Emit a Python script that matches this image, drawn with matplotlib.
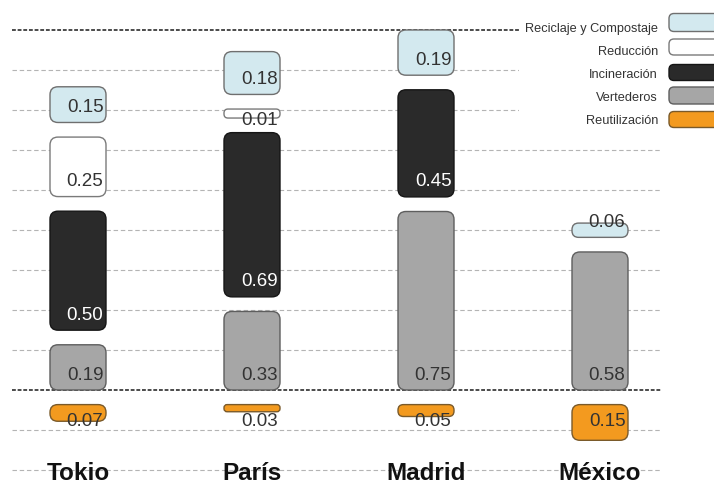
import matplotlib
matplotlib.use("Agg")
import matplotlib.pyplot as plt
from matplotlib.patches import FancyBboxPatch, Rectangle

plt.rcParams['font.family'] = ['Liberation Sans', 'DejaVu Sans']

# ---------------- data ----------------
cities = ["Tokio", "París", "Madrid", "México"]
categories = ["Reciclaje y Compostaje", "Reducción", "Incineración", "Vertederos", "Reutilización"]
reciclaje = [0.15, 0.18, 0.19, 0.06]
reduccion = [0.25, 0.01, 0.00, 0.00]
incineracion = [0.50, 0.69, 0.45, 0.00]
vertederos = [0.19, 0.33, 0.75, 0.58]
reutilizacion = [0.07, 0.03, 0.05, 0.15]

# ---------------- style ----------------
colors = {
    "Reciclaje y Compostaje": ("#d3e9ef", "#6f6f6f", "#333333"),
    "Reducción": ("#ffffff", "#7a7a7a", "#333333"),
    "Incineración": ("#2a2a2a", "#151515", "#ffffff"),
    "Vertederos": ("#a6a6a6", "#5e5e5e", "#333333"),
    "Reutilización": ("#f39a1f", "#7a5a2a", "#333333"),
}

W, H = 714, 486
PX_X, X0 = 174.0, 78.0      # pixels per category step, pixel of first category
PX_Y, Y0 = 238.0, 390.0     # pixels per unit, pixel row of baseline
GAP = 14.6 / PX_Y
BAR_W = 56 / PX_X
RAD_PX = 8
ASPECT = PX_X / PX_Y

fig = plt.figure(figsize=(W / 100, H / 100), dpi=100)
ax = fig.add_axes([0, 0, 1, 1])
ax.set_xlim(-X0 / PX_X, (W - X0) / PX_X)
ax.set_ylim(-(H - Y0) / PX_Y, Y0 / PX_Y)
ax.axis('off')

def px2y(p):
    return (Y0 - p) / PX_Y

def px2x(p):
    return (p - X0) / PX_X

# grid lines
grid_step = 40.0 / PX_Y
x_l, x_r = px2x(12), px2x(662)
for k in range(-2, 10):
    y = k * grid_step
    if k in (0, 9):
        ax.plot([x_l, x_r], [y, y], color="#1a1a1a", lw=1.1, dashes=(2.5, 1.2), zorder=1)
    else:
        ax.plot([x_l, x_r], [y, y], color="#b4b4b4", lw=0.8, dashes=(4, 2.5), zorder=1)


def draw_seg(x, start, h, direction, cat, val):
    face, edge, tcol = colors[cat]
    h_px = h * PX_Y
    r_px = min(RAD_PX, max(h_px / 2 - 0.5, 0.5))
    if direction > 0:
        y0 = start
    else:
        y0 = start - h
    patch = FancyBboxPatch((x - BAR_W / 2, y0), BAR_W, h,
                           boxstyle=f"round,pad=0,rounding_size={r_px / PX_X}",
                           mutation_aspect=ASPECT, facecolor=face, edgecolor=edge,
                           lw=1.0, zorder=3)
    ax.add_patch(patch)
    if direction > 0 and val * PX_Y < 5:
        ty = start - 2 / PX_Y
        tcol = "#333333"
    elif direction > 0:
        ty = start + 15 / PX_Y
    else:
        ty = start - 17 / PX_Y
    ax.text(x + BAR_W / 2 - 2.5 / PX_X, ty, f"{val:.2f}", ha="right", va="center",
            fontsize=13.5, color=tcol, zorder=4)


up_series = [("Vertederos", vertederos), ("Incineración", incineracion),
             ("Reducción", reduccion), ("Reciclaje y Compostaje", reciclaje)]

for i, city in enumerate(cities):
    cur = 0.0
    first = True
    for cat, vals in up_series:
        v = vals[i]
        if v <= 0:
            continue
        if not first:
            cur += GAP
        h = max(v, 9 / PX_Y)
        draw_seg(i, cur, h, 1, cat, v)
        cur += h
        first = False
    v = reutilizacion[i]
    if v > 0:
        draw_seg(i, -GAP, v, -1, "Reutilización", v)
    ax.text(i, px2y(480), city, ha="center", va="baseline", fontsize=17.5,
            fontweight="bold", color="#111111", zorder=4)

# legend (manual)
ax.add_patch(Rectangle((519 / W, 1 - 134 / H), (W - 519) / W, 122 / H,
                       transform=ax.transAxes, facecolor="white", edgecolor="none", zorder=5))
text_rows = [29, 52, 75, 98, 121]
sw_rows = [22.5, 47, 72.5, 95.5, 119.5]
sw_h = [18, 16, 16, 17, 16]
for cat, ty, sy, sh in zip(categories, text_rows, sw_rows, sw_h):
    face, edge, _ = colors[cat]
    ax.text(658 / W, 1 - ty / H, cat, transform=ax.transAxes, ha="right", va="center",
            fontsize=9.2, color="#333333", zorder=6)
    sw = FancyBboxPatch((669 / W, 1 - (sy + sh / 2) / H), 60 / W, sh / H,
                        boxstyle=f"round,pad=0,rounding_size={5 / W}",
                        mutation_aspect=W / H, transform=ax.transAxes,
                        facecolor=face, edgecolor=edge, lw=1.0, zorder=6)
    ax.add_patch(sw)

fig.savefig("out.png", dpi=100)
